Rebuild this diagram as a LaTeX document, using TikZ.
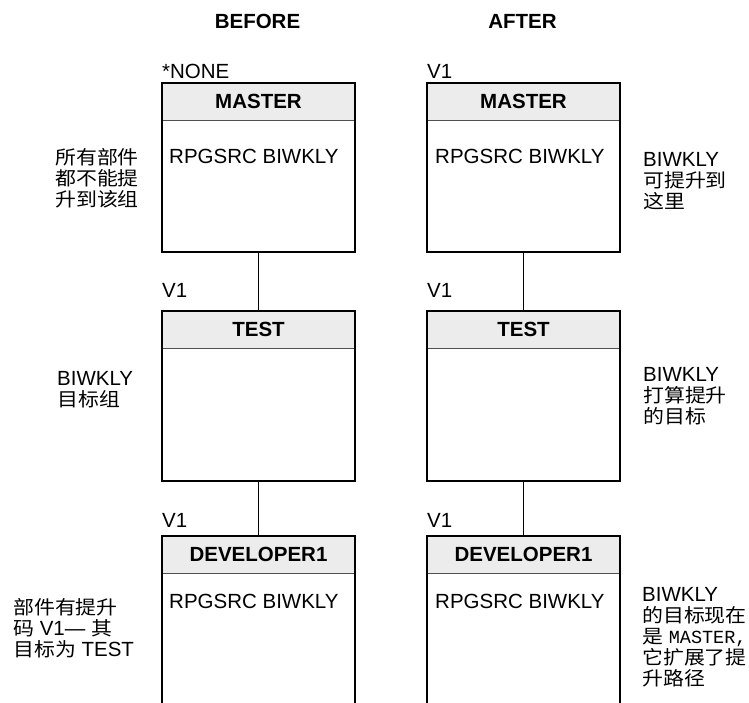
\documentclass[tikz,border=0pt]{standalone}
\usepackage{fontspec}
\setmainfont{Liberation Sans}
\newfontfamily\cjkfont[FakeStretch=1.1]{Noto Sans CJK SC}
\newfontfamily\monofont{Liberation Mono}
\newcommand\zh[1]{{\cjkfont\fontsize{19}{21}\selectfont #1}}
\newcommand\mon[1]{{\monofont\fontsize{18.5}{21}\selectfont #1}}
\definecolor{headfill}{RGB}{236,236,236}
\definecolor{sepline}{RGB}{80,80,80}
\begin{document}
\begin{tikzpicture}[x=1pt,y=-1pt,
  lbl/.style={inner sep=0pt, font=\fontsize{20.5}{21}\selectfont},
  ttl/.style={inner sep=0pt, font=\bfseries\fontsize{20.5}{21}\selectfont},
  note/.style={inner sep=0pt, align=left, anchor=base west, font=\fontsize{20.5}{21}\selectfont},
  headbox/.style={fill=headfill, inner sep=0pt, outer sep=0pt, minimum width=193pt, minimum height=37pt, anchor=north west, font=\bfseries\fontsize{20.5}{21}\selectfont},
  framebox/.style={draw, line width=2.4pt, inner sep=0pt, outer sep=0pt, minimum width=193pt, anchor=north west},
  openbox/.style={inner sep=0pt, outer sep=0pt, minimum width=193pt, minimum height=172pt, anchor=north west},
  frameline/.style={line width=2.4pt},
  sep/.style={draw=sepline, line width=1pt},
  conn/.style={line width=1pt}
]
\useasboundingbox (0,0) rectangle (749,702);

% titles
\node[ttl, anchor=base] (before) at (257.5,28) {BEFORE};
\node[ttl, anchor=base] (after) at (522.5,28) {AFTER};

% ---------- MASTER ----------
\node[lbl, anchor=base west] (vlm) at (162,78) {*NONE};
\node[lbl, anchor=base west] (vrm) at (427,78) {V1};
\node[headbox] (hlm) at (162,83) {MASTER};
\node[headbox] (hrm) at (427,83) {MASTER};
\draw[sep] (hlm.south west) -- (hlm.south east);
\draw[sep] (hrm.south west) -- (hrm.south east);
\node[framebox, minimum height=169pt] (blm) at (162,83) {};
\node[framebox, minimum height=169pt] (brm) at (427,83) {};
\node[lbl, anchor=base west] (clm) at (169,163) {RPGSRC BIWKLY};
\node[lbl, anchor=base west] (crm) at (435,163) {RPGSRC BIWKLY};

% ---------- TEST ----------
\node[lbl, anchor=base west] (vlt) at (162,297) {V1};
\node[lbl, anchor=base west] (vrt) at (427,297) {V1};
\node[headbox] (hlt) at (162,311) {TEST};
\node[headbox] (hrt) at (427,311) {TEST};
\draw[sep] (hlt.south west) -- (hlt.south east);
\draw[sep] (hrt.south west) -- (hrt.south east);
\node[framebox, minimum height=170pt] (blt) at (162,311) {};
\node[framebox, minimum height=170pt] (brt) at (427,311) {};

% ---------- DEVELOPER1 ----------
\node[lbl, anchor=base west] (vld) at (162,527) {V1};
\node[lbl, anchor=base west] (vrd) at (427,527) {V1};
\node[headbox] (hld) at (162,536) {DEVELOPER1};
\node[headbox] (hrd) at (427,536) {DEVELOPER1};
\draw[sep] (hld.south west) -- (hld.south east);
\draw[sep] (hrd.south west) -- (hrd.south east);
\node[openbox] (bld) at (162,536) {};
\node[openbox] (brd) at (427,536) {};
\draw[frameline] (bld.south west) -- (bld.north west) -- (bld.north east) -- (bld.south east);
\draw[frameline] (brd.south west) -- (brd.north west) -- (brd.north east) -- (brd.south east);
\node[lbl, anchor=base west] (cld) at (169,608) {RPGSRC BIWKLY};
\node[lbl, anchor=base west] (crd) at (435,608) {RPGSRC BIWKLY};

% connectors
\draw[conn] (blm.south) -- (blt.north);
\draw[conn] (brm.south) -- (brt.north);
\draw[conn] (blt.south) -- (bld.north);
\draw[conn] (brt.south) -- (brd.north);

% notes (anchored at the baseline of their last line)
\node[note] (n1) at (55,206) {\zh{所有部件}\\\zh{都不能提}\\\zh{升到该组}};
\node[note] (n2) at (643,208) {BIWKLY\\\zh{可提升到}\\\zh{这里}};
\node[note] (n3) at (57,406) {BIWKLY\\\zh{目标组}};
\node[note] (n4) at (643,423) {BIWKLY\\\zh{打算提升}\\\zh{的目标}};
\node[note] (n5) at (13,656) {\zh{部件有提升}\\\zh{码} V1— \zh{其}\\\zh{目标为} TEST};
\node[note] (n6) at (642,685) {BIWKLY\\\zh{的目标现在}\\\zh{是} \mon{MASTER,}\\\zh{它扩展了提}\\\zh{升路径}};
\end{tikzpicture}
\end{document}
